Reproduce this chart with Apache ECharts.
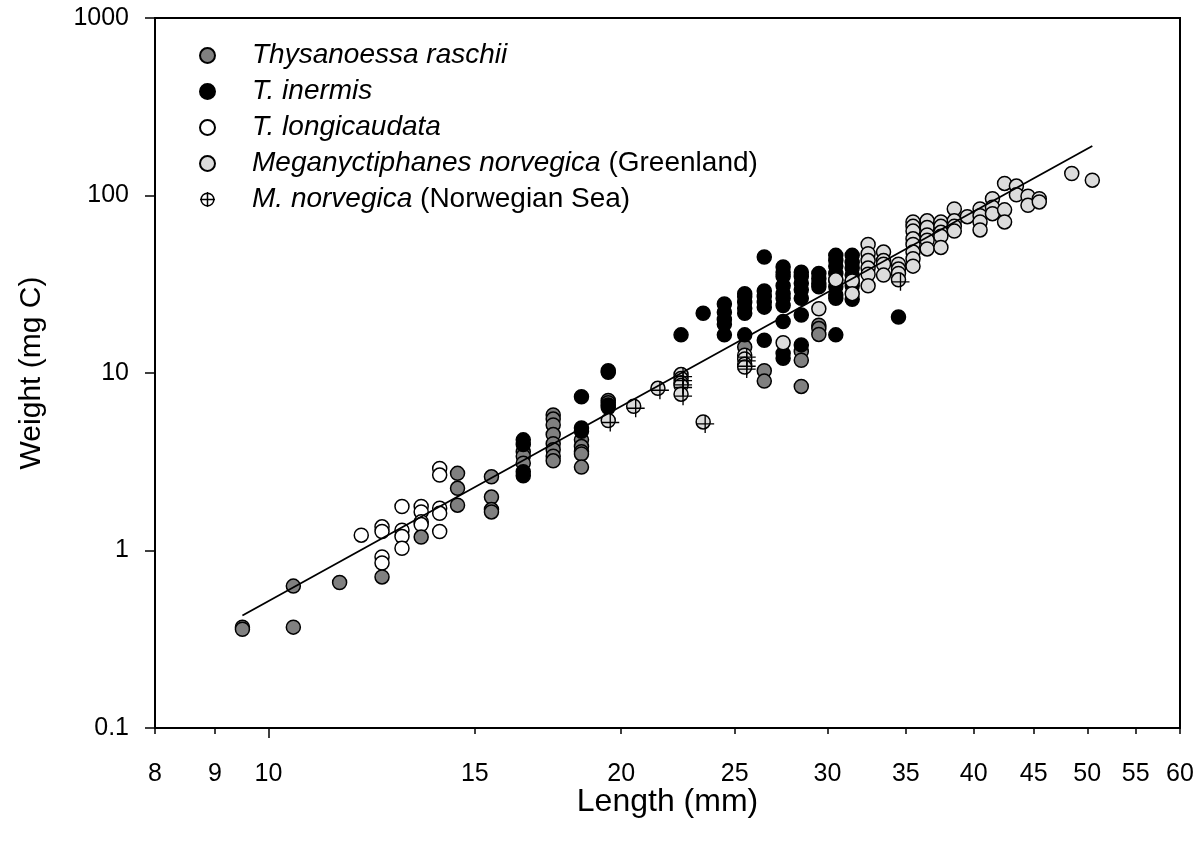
<!DOCTYPE html>
<html><head><meta charset="utf-8">
<script src="https://cdn.jsdelivr.net/npm/echarts@6/dist/echarts.min.js"></script>
<style>html,body{margin:0;padding:0;background:#fff}#c{width:1204px;height:854px}</style>
</head><body><div id="c"></div>
<script>
const xTicks = [8, 9, 10, 15, 20, 25, 30, 35, 40, 45, 50, 55, 60];
const xMajorTicks = [10];
const yTicks = [0.1, 1, 10, 100, 1000];

const raschii = [
  [9.5,0.37],[9.5,0.36],[10.5,0.63],[10.5,0.37],[11.5,0.66],[12.5,0.71],[13.5,1.19],
  [14.5,2.72],[14.5,2.24],[14.5,1.80],
  [15.5,2.6],[15.5,2.0],[15.5,1.7],[15.5,1.65],
  [16.5,3.6],[16.5,3.4],[16.5,3.1],
  [17.5,5.8],[17.5,5.5],[17.5,5.1],[17.5,4.5],[17.5,4.0],[17.5,3.7],[17.5,3.4],[17.5,3.2],
  [18.5,4.2],[18.5,3.85],[18.5,3.6],[18.5,3.5],[18.5,2.95],
  [19.5,7.0],[19.5,6.8],
  [25.5,14.0],[26.5,10.3],[26.5,9.0],
  [28.5,13.2],[28.5,11.8],[28.5,8.4],
  [29.5,18.6],[29.5,17.8],[29.5,16.5]
];
const inermis = [
  [16.5,4.2],[16.5,3.96],[16.5,2.78],[16.5,2.64],
  [18.5,7.35],[18.5,4.9],[18.5,4.7],
  [19.5,10.3],[19.5,10.1],[19.5,6.6],[19.5,6.4],
  [22.5,16.4],[23.5,21.7],
  [24.5,24.5],[24.5,22],[24.5,20],[24.5,18.8],[24.5,16.4],
  [25.5,28],[25.5,26.9],[25.5,25],[25.5,23.2],[25.5,21.7],[25.5,16.4],
  [26.5,45],[26.5,29],[26.5,27],[26.5,25],[26.5,23.5],[26.5,15.3],
  [27.5,39.5],[27.5,37],[27.5,35],[27.5,31],[27.5,28],[27.5,26.4],[27.5,24],[27.5,19.5],[27.5,12.9],[27.5,12.1],
  [28.5,37],[28.5,35],[28.5,32],[28.5,29.4],[28.5,26.4],[28.5,21.2],[28.5,14.4],
  [29.5,36.4],[29.5,34],[29.5,32],[29.5,30.6],
  [30.5,46],[30.5,43],[30.5,40],[30.5,36.4],[30.5,33.3],[30.5,30.6],[30.5,27.5],[30.5,26.4],[30.5,16.4],
  [31.5,46],[31.5,42],[31.5,39],[31.5,35.6],[31.5,33],[31.5,31],[31.5,26],
  [34.5,20.7]
];
const longicaudata = [
  [12.0,1.22],
  [12.5,1.36],[12.5,1.28],[12.5,0.92],[12.5,0.85],
  [13.0,1.77],[13.0,1.30],[13.0,1.20],[13.0,1.03],
  [13.5,1.77],[13.5,1.65],[13.5,1.45],[13.5,1.40],
  [14.0,2.90],[14.0,2.66],[14.0,1.73],[14.0,1.62],[14.0,1.28]
];
const greenland = [
  [27.5,14.8],[29.5,23],[30.5,33.5],[31.5,33],[31.5,28],
  [32.5,53],[32.5,47],[32.5,43],[32.5,39],[32.5,36],[32.5,31],
  [33.5,48],[33.5,43],[33.5,41],[33.5,35.6],
  [34.5,41],[34.5,38.5],[34.5,36.4],
  [35.5,71],[35.5,67],[35.5,63],[35.5,57],[35.5,53],[35.5,48],[35.5,44],[35.5,40],
  [36.5,72],[36.5,66],[36.5,60],[36.5,56],[36.5,50],
  [37.5,71],[37.5,67],[37.5,62],[37.5,59],[37.5,51],
  [38.5,84],[38.5,72],[38.5,67],[38.5,63],
  [39.5,76],
  [40.5,84],[40.5,77],[40.5,71],[40.5,64],
  [41.5,96],[41.5,86],[41.5,79],
  [42.5,117],[42.5,83],[42.5,71],
  [43.5,113],[43.5,101],
  [44.5,99],[44.5,88],
  [45.5,96],[45.5,92],
  [48.5,133],[50.5,122]
];
const norwegian = [
  [19.5,5.4],[20.5,6.5],[21.5,8.2],
  [22.5,9.8],[22.5,9.3],[22.5,8.8],[22.5,8.5],[22.5,7.6],
  [23.5,5.3],
  [25.5,12.6],[25.5,12.0],[25.5,11.2],[25.5,10.8],
  [34.5,33.5]
];
const fitLine = [[9.5,0.43],[50.5,190]];

const legendNames = [
  'Thysanoessa raschii',
  'T. inermis',
  'T. longicaudata',
  'Meganyctiphanes norvegica (Greenland)',
  'M. norvegica (Norwegian Sea)'
];

const FONT = '"Liberation Sans", Arial, Helvetica, sans-serif';
const crossPath = 'path://M9.25,0L10.75,0L10.75,9.25L20,9.25L20,10.75L10.75,10.75L10.75,20L9.25,20L9.25,10.75L0,10.75L0,9.25L9.25,9.25Z';
const legendCross = 'path://M10,1.5A8.5,8.5,0,1,1,9.99,1.5Z M10,0L10,20 M0,10L20,10';

function scatter(name, data, color) {
  return {
    name: name, type: 'scatter', data: data, symbol: 'circle', symbolSize: 14,
    itemStyle: { color: color, borderColor: '#000', borderWidth: 1.5, opacity: 1 },
    emphasis: { disabled: true }, silent: true, z: 2
  };
}

const chart = echarts.init(document.getElementById('c'));
chart.setOption({
  animation: false,
  backgroundColor: '#fff',
  textStyle: { fontFamily: FONT },
  grid: { left: 155, right: 24, top: 18, bottom: 126, show: true, borderColor: '#000', borderWidth: 2, backgroundColor: 'transparent' },
  legend: {
    orient: 'vertical', left: 194, top: 35, itemWidth: 15, itemHeight: 15, itemGap: 5,
    selectedMode: false,
    data: [
      { name: legendNames[0], icon: 'circle' },
      { name: legendNames[1], icon: 'circle' },
      { name: legendNames[2], icon: 'circle' },
      { name: legendNames[3], icon: 'circle' },
      { name: legendNames[4], icon: legendCross, itemStyle: { color: '#fff', borderColor: '#000', borderWidth: 1.5 } }
    ],
    formatter: function (name) {
      const k = name.indexOf(' (');
      if (k > 0) return '{s| }{i|' + name.slice(0, k) + '}{n| ' + name.slice(k + 1) + '}';
      return '{s| }{i|' + name + '}';
    },
    textStyle: {
      color: '#000', fontFamily: FONT, fontSize: 28, lineHeight: 31,
      rich: {
        s: { width: 32, fontSize: 28, lineHeight: 31 },
        i: { fontStyle: 'italic', fontSize: 28, lineHeight: 31, color: '#000', fontFamily: FONT },
        n: { fontSize: 28, lineHeight: 31, color: '#000', fontFamily: FONT }
      }
    }
  },
  xAxis: [{
    type: 'log', logBase: 10, min: 8, max: 60,
    name: 'Length (mm)', nameLocation: 'middle', nameGap: 58, nameMoveOverlap: false,
    nameTextStyle: { fontSize: 32, color: '#000', fontFamily: FONT },
    axisLine: { show: true, lineStyle: { color: '#000', width: 2 } },
    axisTick: { show: true, inside: false, length: 6, customValues: xTicks, lineStyle: { color: '#000', width: 1.5 } },
    axisLabel: { customValues: xTicks, margin: 34, fontSize: 25, color: '#000', fontFamily: FONT,
      formatter: function (v) { return String(Math.round(v)); } },
    splitLine: { show: false }, minorTick: { show: false }
  }, {
    type: 'log', logBase: 10, min: 8, max: 60, position: 'bottom', gridIndex: 0,
    axisLine: { show: false },
    axisTick: { show: true, inside: false, length: 10, customValues: xMajorTicks, lineStyle: { color: '#000', width: 1.5 } },
    axisLabel: { show: false, customValues: xMajorTicks },
    splitLine: { show: false }
  }],
  yAxis: {
    type: 'log', logBase: 10, min: 0.1, max: 1000,
    name: 'Weight (mg C)', nameLocation: 'middle', nameGap: 108, nameRotate: 90, nameMoveOverlap: false,
    nameTextStyle: { fontSize: 30, color: '#000', fontFamily: FONT },
    axisLine: { show: true, lineStyle: { color: '#000', width: 2 } },
    axisTick: { show: true, inside: false, length: 10, customValues: yTicks, lineStyle: { color: '#000', width: 1.5 } },
    axisLabel: { customValues: yTicks, margin: 26, fontSize: 25, color: '#000', fontFamily: FONT,
      formatter: function (v) { return String(+v.toPrecision(6)); } },
    splitLine: { show: false }, minorTick: { show: false }
  },
  series: [
    scatter(legendNames[2], longicaudata, '#ffffff'),
    scatter(legendNames[0], raschii, '#808080'),
    scatter(legendNames[1], inermis, '#000000'),
    scatter(legendNames[3], greenland, '#dcdcdc'),
    scatter(legendNames[4], norwegian, '#dcdcdc'),
    { name: legendNames[4], type: 'scatter', data: norwegian, symbol: crossPath, symbolSize: 18, symbolOffset: [2, 2],
      itemStyle: { color: '#000', opacity: 1 }, emphasis: { disabled: true }, silent: true, z: 2 },
    { type: 'line', data: fitLine, symbol: 'none', showSymbol: false, silent: true,
      lineStyle: { color: '#000', width: 1.8 }, z: 3 }
  ]
});
</script>
</body></html>
